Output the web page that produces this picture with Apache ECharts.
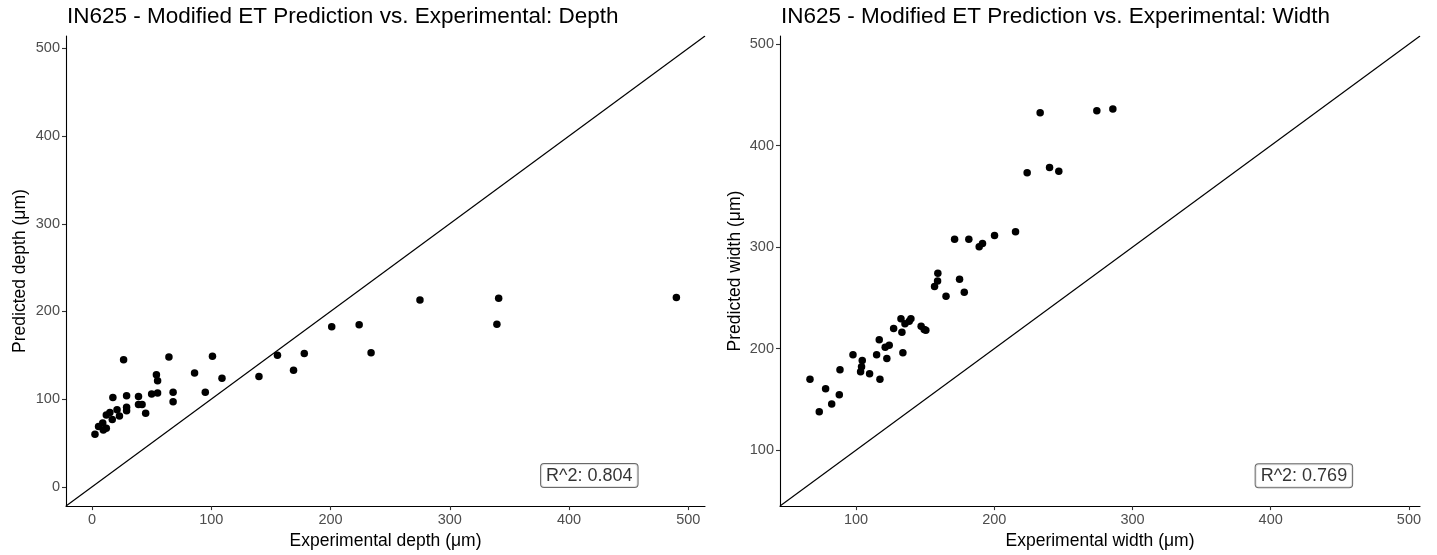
<!DOCTYPE html>
<html>
<head>
<meta charset="utf-8">
<script src="https://cdn.jsdelivr.net/npm/echarts@6/dist/echarts.min.js"></script>
<style>
html,body{margin:0;padding:0;background:#fff;}
#chart{width:1437px;height:555px;}
</style>
</head>
<body>
<div id="chart"></div>
<script>
// ---- Data ----
const depthPoints = [
  [2.5,60],[5.5,69],[9,73],[9.5,65],[12,67],[12,82],[15,85],[17,77],[21,88],[23,81],
  [17.5,102],[26.5,145],[29,104],[29,91],[29,87],[39,103],[39,94],[42,94],[45,84],[50,106],
  [55,107],[54,128],[55,121],[64.5,148],[68,108],[68,97],[86,130],[95,108],[101,149],[109,124],
  [140,126],[155.5,150],[169,133],[178,152],[201,182.5],[224,185],[234,153],[275,213],[341,215],
  [339.5,185.5],[490,216]
];
const widthPoints = [
  [66.7,170],[73.4,138],[78,160.6],[82.4,145.5],[87.9,154.7],[88.4,179.3],[97.8,194],[103.3,177.3],
  [104,182.3],[104.5,188.5],[109.8,175.4],[114.9,194],[116.8,208.8],[117.3,170],[121.1,201.5],
  [124,203.5],[122.3,190.4],[127.2,219.9],[132.5,229.4],[133.2,216.3],[133.9,196],[135.4,224.5],
  [138.5,227],[139.7,229.4],[147.1,222.2],[149.3,218.9],[150.5,218.2],[156.8,261.2],[159,266.6],
  [159.2,274.3],[165.1,251.6],[174.9,268.4],[178.3,255.6],[171.3,307.7],[181.6,307.7],[189.1,300.5],
  [191.5,303.7],[200.2,311.6],[215.4,315.2],[223.8,373.2],[240,378.4],[246.7,374.9],[233.2,432.5],
  [274.2,434.4],[285.8,436.1]
];
const depthLimits = [-21.8, 514];
const widthLimits = [45, 508];
const depthTicks = [0, 100, 200, 300, 400, 500];
const widthTicks = [100, 200, 300, 400, 500];
const depthR2 = {x: 417, y: 13, text: 'R^2: 0.804'};
const widthR2 = {x: 424, y: 75, text: 'R^2: 0.769'};
const titles = ['IN625 - Modified ET Prediction vs. Experimental: Depth',
                'IN625 - Modified ET Prediction vs. Experimental: Width'];
const xNames = ['Experimental depth (μm)', 'Experimental width (μm)'];
const yNames = ['Predicted depth (μm)', 'Predicted width (μm)'];

// ---- Chart ----
const FONT = '"Liberation Sans", Arial, sans-serif';
const chart = echarts.init(document.getElementById('chart'), null, {renderer: 'canvas'});

function axis(idx, lim, ticks, name, isY, gap) {
  return {
    type: 'value', gridIndex: idx, min: lim[0], max: lim[1],
    name: name, nameLocation: 'middle', nameGap: gap,
    nameTextStyle: {fontFamily: FONT, fontSize: 17.5, color: '#000'},
    splitLine: {show: false},
    axisLine: {show: true, onZero: false, lineStyle: {color: '#000', width: 1.1}},
    axisTick: {show: true, length: 4, inside: false, customValues: ticks, lineStyle: {color: '#333', width: 1.1}},
    axisLabel: {show: true, customValues: ticks, margin: isY ? 6 : 6, fontFamily: FONT, fontSize: 14.5, color: '#4d4d4d'}
  };
}

const pointStyle = {color: '#000', opacity: 1};
function r2Series(idx, r) {
  return {
    type: 'scatter', xAxisIndex: idx, yAxisIndex: idx, symbolSize: 0, silent: true,
    data: [[r.x, r.y]],
    label: {show: true, position: 'inside', formatter: r.text, fontFamily: FONT, fontSize: 18, color: '#000',
      backgroundColor: '#fff', borderColor: '#444', borderWidth: 1, borderRadius: 3, padding: [3, 5, 2, 5]},
    z: 10
  };
}

const titleStyle = {fontFamily: FONT, fontSize: 22.5, fontWeight: 'normal', color: '#000'};
chart.setOption({
  animation: false,
  backgroundColor: '#fff',
  title: [
    {text: titles[0], left: 67, top: 5, padding: 0, textStyle: titleStyle},
    {text: titles[1], left: 781, top: 5, padding: 0, textStyle: titleStyle}
  ],
  grid: [
    {left: 66, right: 732, top: 36, bottom: 47},
    {left: 780, right: 17, top: 36, bottom: 47}
  ],
  xAxis: [
    axis(0, depthLimits, depthTicks, xNames[0], false, 25),
    axis(1, widthLimits, widthTicks, xNames[1], false, 25)
  ],
  yAxis: [
    axis(0, depthLimits, depthTicks, yNames[0], true, 37),
    axis(1, widthLimits, widthTicks, yNames[1], true, 36)
  ],
  series: [
    {type: 'line', xAxisIndex: 0, yAxisIndex: 0, data: [[depthLimits[0], depthLimits[0]], [depthLimits[1], depthLimits[1]]],
      symbol: 'none', lineStyle: {color: '#000', width: 1.2}, silent: true},
    {type: 'line', xAxisIndex: 1, yAxisIndex: 1, data: [[widthLimits[0], widthLimits[0]], [widthLimits[1], widthLimits[1]]],
      symbol: 'none', lineStyle: {color: '#000', width: 1.2}, silent: true},
    {type: 'scatter', xAxisIndex: 0, yAxisIndex: 0, data: depthPoints, symbolSize: 7.5, itemStyle: pointStyle},
    {type: 'scatter', xAxisIndex: 1, yAxisIndex: 1, data: widthPoints, symbolSize: 7.5, itemStyle: pointStyle},
    r2Series(0, depthR2),
    r2Series(1, widthR2)
  ]
});
</script>
</body>
</html>
